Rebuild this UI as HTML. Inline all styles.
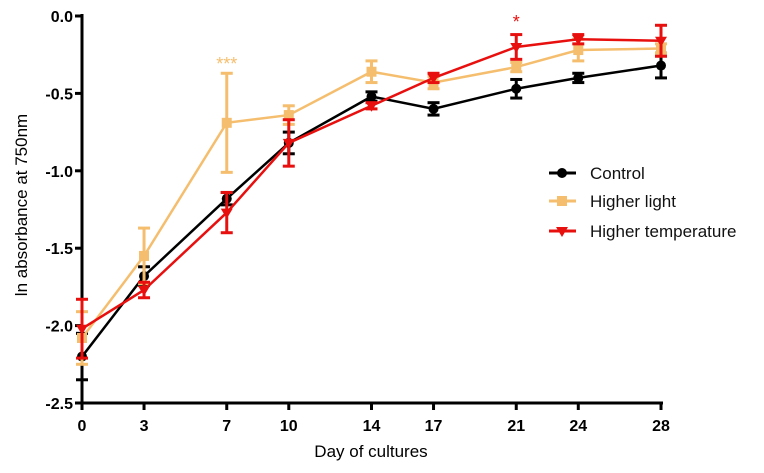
<!DOCTYPE html>
<html><head><meta charset="utf-8"><style>
body{margin:0;background:#fff}
svg text{font-family:"Liberation Sans",Arial,sans-serif}
</style></head><body>
<svg id="c" width="764" height="468" xmlns="http://www.w3.org/2000/svg"></svg>
<script>
const days=[0,3,7,10,14,17,21,24,28];
const controlVals=[-2.20,-1.68,-1.18,-0.82,-0.52,-0.60,-0.47,-0.40,-0.32];
const controlErr=[0.15,0.06,0.04,0.07,0.03,0.04,0.06,0.03,0.08];
const lightVals=[-2.08,-1.55,-0.69,-0.64,-0.36,-0.43,-0.33,-0.22,-0.21];
const lightErr=[0.17,0.18,0.32,0.06,0.07,0.04,0.03,0.07,0.03];
const tempVals=[-2.02,-1.77,-1.27,-0.82,-0.58,-0.40,-0.20,-0.15,-0.16];
const tempErr=[0.19,0.05,0.13,0.15,0.02,0.03,0.08,0.03,0.10];
const yTicks=[0,-0.5,-1,-1.5,-2,-2.5];
const yTickLabels=["0.0","-0.5","-1.0","-1.5","-2.0","-2.5"];
const seriesNames=["Control","Higher light","Higher temperature"];

const svg=document.getElementById('c');
const NS='http://www.w3.org/2000/svg';
const X=d=>82+d*(661-82)/28;
const Y=v=>16+(-v)*(403-16)/2.5;
function el(t,a,p){const e=document.createElementNS(NS,t);for(const k in a)e.setAttribute(k,a[k]);(p||svg).appendChild(e);return e;}

let ax=el('line',{x1:82,y1:14,x2:82,y2:404,stroke:'#000','stroke-width':3});


let bx=el('line',{x1:80,y1:403,x2:663,y2:403,stroke:'#000','stroke-width':3});


yTicks.forEach((v,i)=>{
  const t=el('line',{x1:75,x2:82,y1:Y(v),y2:Y(v),stroke:'#000','stroke-width':3});
  
  
  const l=el('text',{x:73,y:Y(v)+6,'text-anchor':'end','font-size':16,'font-weight':'bold'});
  l.textContent=yTickLabels[i];
  
  
});
days.forEach(d=>{
  const t=el('line',{x1:X(d),x2:X(d),y1:403,y2:410,stroke:'#000','stroke-width':3});
  
  
  const l=el('text',{x:X(d),y:431,'text-anchor':'middle','font-size':16,'font-weight':'bold'});
  l.textContent=d;
  
  
});
let xt=el('text',{x:371,y:457,'text-anchor':'middle','font-size':17});
xt.textContent='Day of cultures';


let yt=el('text',{x:0,y:0,'text-anchor':'middle','font-size':17,transform:'translate(27,205) rotate(-90)'});
yt.textContent='ln absorbance at 750nm';



function marker(g,kind,x,y,c){
  if(kind==='circle')return el('circle',{cx:x,cy:y,r:5,fill:c},g);
  if(kind==='square')return el('rect',{x:x-5,y:y-5,width:10,height:10,fill:c},g);
  return el('polygon',{points:`${x-6},${y-4} ${x+6},${y-4} ${x},${y+6}`,fill:c},g);
}
function series(vals,err,c,kind,name){
  const g=el('g',{});
  
  
  el('polyline',{points:days.map((d,i)=>X(d)+','+Y(vals[i])).join(' '),fill:'none',stroke:c,'stroke-width':2.5},g);
  days.forEach((d,i)=>{
    const x=X(d),t=Y(vals[i]+err[i]),b=Y(vals[i]-err[i]);
    el('line',{x1:x,x2:x,y1:t,y2:b,stroke:c,'stroke-width':3},g);
    el('line',{x1:x-6,x2:x+6,y1:t,y2:t,stroke:c,'stroke-width':3},g);
    el('line',{x1:x-6,x2:x+6,y1:b,y2:b,stroke:c,'stroke-width':3},g);
    const m=marker(g,kind,x,Y(vals[i]),c);
    
    
  });
}
series(controlVals,controlErr,'#000','circle','control-series');
series(lightVals,lightErr,'#F5BE6E','square','higher-light-series');
series(tempVals,tempErr,'#E8100F','tri','higher-temperature-series');

let s1=el('text',{x:X(7),y:70,'text-anchor':'middle','font-size':18,fill:'#F5BE6E'});
s1.textContent='***';


let s2=el('text',{x:X(21),y:28,'text-anchor':'middle','font-size':18,fill:'#E8100F'});
s2.textContent='*';



const lc=['#000','#F5BE6E','#E8100F'],lk=['circle','square','tri'],ly=[173,201,231];
seriesNames.forEach((n,i)=>{
  const g=el('g',{});
  
  
  el('line',{x1:549,x2:576,y1:ly[i],y2:ly[i],stroke:lc[i],'stroke-width':3},g);
  marker(g,lk[i],562,ly[i],lc[i]);
  const t=el('text',{x:590,y:ly[i]+6,'font-size':17,fill:'#111'},g);
  t.textContent=n;
});
</script>
</body></html>
